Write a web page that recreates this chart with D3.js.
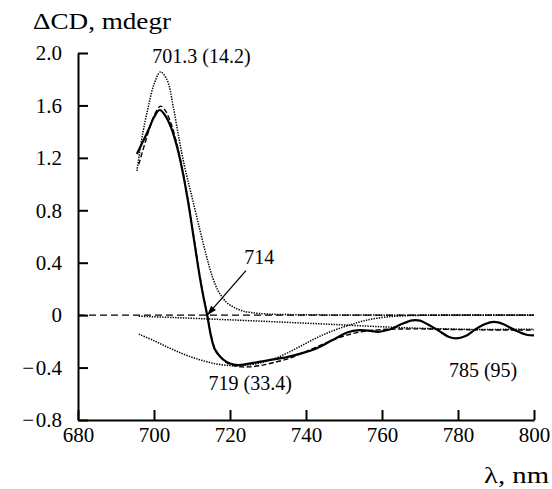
<!DOCTYPE html>
<html>
<head>
<meta charset="utf-8">
<script src="https://cdn.jsdelivr.net/npm/d3@7"></script>
<style>
    html, body { margin: 0; padding: 0; background: #fff; }
    svg { display: block; }
    svg text { font-family: "Liberation Serif", "Times New Roman", serif; }
    .axis path, .axis line { stroke: #000; stroke-width: 2; }
</style>
</head>
<body>
<svg id="chart" width="552" height="489"></svg>
<script>
// ====================================
// Données
// ====================================
const xTicks = [680, 700, 720, 740, 760, 780, 800];
const yTicks = [-0.8, -0.4, 0, 0.4, 0.8, 1.2, 1.6, 2.0];

// Spectre mesuré (trait plein)
const measured = [
    [695.5, 1.23], [697, 1.32], [698.5, 1.41], [700, 1.51], [701.5, 1.565],
    [703, 1.52], [704.5, 1.43], [706, 1.29], [707.5, 1.10], [709, 0.86],
    [710.5, 0.58], [712, 0.30], [713, 0.14], [714, 0.00], [715, -0.16],
    [716, -0.26], [717.5, -0.32], [719, -0.355], [721, -0.378], [723, -0.38],
    [725, -0.37], [728, -0.355], [731, -0.34], [735, -0.32], [739, -0.29],
    [743, -0.25], [747, -0.19], [751, -0.13], [754, -0.115], [757, -0.12],
    [759, -0.127], [762, -0.11], [765, -0.07], [768, -0.04], [770, -0.042],
    [772, -0.07], [775, -0.12], [777.5, -0.165], [779.5, -0.178], [782, -0.16],
    [784.5, -0.11], [787, -0.07], [789.5, -0.052], [792, -0.07], [795, -0.115],
    [798, -0.15], [800, -0.155]
];

// Somme des composantes (tirets)
const fitSum = [
    [696, 1.15], [697.5, 1.30], [699, 1.44], [700.5, 1.55], [701.7, 1.595],
    [703, 1.56], [704.5, 1.46], [706, 1.31], [707.5, 1.11], [709, 0.87],
    [710.5, 0.59], [712, 0.31], [713, 0.15], [714, 0.0], [715, -0.15],
    [716, -0.25], [717.5, -0.32], [719, -0.36], [721, -0.385], [723, -0.395],
    [725, -0.395], [728, -0.385], [731, -0.365], [735, -0.335], [739, -0.29],
    [743, -0.24], [747, -0.19], [751, -0.15], [755, -0.125], [760, -0.11],
    [770, -0.105], [780, -0.11], [790, -0.113], [800, -0.113]
];

// Composante positive 701.3 (14.2)
const band701 = [
    [695.5, 1.10], [697, 1.38], [698.5, 1.59], [700, 1.76], [701.7, 1.855],
    [703.5, 1.79], [705, 1.60], [706.5, 1.36], [708, 1.14], [709.5, 0.96],
    [711, 0.78], [712.5, 0.60], [714, 0.43], [715.5, 0.28], [717, 0.18],
    [719, 0.10], [721, 0.06], [723, 0.035], [725.5, 0.02], [730, 0.008],
    [740, 0.003], [760, 0.0], [800, 0.0]
];

// Composante négative 719 (33.4)
const band719 = [
    [696, -0.145], [700, -0.195], [704, -0.25], [708, -0.30], [712, -0.34],
    [716, -0.37], [720, -0.385], [723, -0.385], [727, -0.37], [731, -0.34],
    [735, -0.29], [739, -0.23], [743, -0.17], [747, -0.12], [751, -0.08],
    [755, -0.045], [760, -0.018], [765, -0.006], [775, 0.0], [800, 0.0]
];

// Composante large 785 (95)
const band785 = [
    [696, -0.008], [705, -0.018], [715, -0.03], [725, -0.042], [735, -0.055],
    [745, -0.068], [755, -0.082], [765, -0.095], [775, -0.104], [785, -0.109],
    [795, -0.108], [800, -0.107]
];

// Étiquettes : texte, λ, valeur
const bandLabels = [
    { text: "701.3 (14.2)", x: 712.5, y: 1.92 },
    { text: "719 (33.4)", x: 725.3, y: -0.57 },
    { text: "785 (95)", x: 786.6, y: -0.47 }
];
const crossLabel = { text: "714", x: 727.7, y: 0.39, tail: [724.2, 0.34], tip: [714, 0] };

// ====================================
// Mise en page
// ====================================
const svg = d3.select("#chart");
const x = d3.scaleLinear().domain([680, 800]).range([78, 534]);
const y = d3.scaleLinear().domain([-0.8, 2.0]).range([420, 53]);
const fontSize = 20;

// Format des graduations : signe moins suivi d'une espace très fine
const formatTick = d => d === 0 ? "0" : (d < 0 ? "\u2212\u200A" : "") + d3.format(".1f")(Math.abs(d));

/**
 * Dessine les axes
 */
function drawAxes() {
    svg.append("g")
        .attr("class", "axis")
        .attr("transform", `translate(${x(680)},0)`)
        .call(d3.axisLeft(y).tickValues(yTicks).tickSize(-10).tickSizeOuter(0).tickPadding(16)
            .tickFormat(formatTick));

    const xAxis = svg.append("g")
        .attr("class", "axis")
        .attr("transform", `translate(0,${y(-0.8)})`)
        .call(d3.axisBottom(x).tickValues(xTicks).tickSize(-10).tickSizeOuter(0).tickFormat(d3.format("d")));
    xAxis.selectAll("text")
        .attr("y", 22)
        .attr("dy", null);

    svg.selectAll(".axis").attr("font-size", 21);
    svg.selectAll(".axis text").attr("fill", "#000");
    svg.selectAll(".axis .domain").attr("fill", "none");

    // Titres des axes
    svg.append("text")
        .attr("class", "label")
        .attr("x", 33)
        .attr("y", 29)
        .attr("font-size", 23)
        .attr("textLength", 138)
        .attr("lengthAdjust", "spacingAndGlyphs")
        .text("ΔCD, mdegr");

    svg.append("text")
        .attr("class", "label")
        .attr("x", 549 - 65)
        .attr("y", 483)
        .attr("font-size", 23)
        .attr("textLength", 65)
        .attr("lengthAdjust", "spacingAndGlyphs")
        .text("λ, nm");
}

/**
 * Dessine les courbes
 */
function drawCurves() {
    const line = d3.line()
        .x(d => x(d[0]))
        .y(d => y(d[1]))
        .curve(d3.curveCatmullRom.alpha(0.5));

    // Ligne de base à zéro
    svg.append("line")
        .attr("x1", x(680)).attr("x2", x(800))
        .attr("y1", y(0)).attr("y2", y(0))
        .attr("stroke", "#000")
        .attr("stroke-width", 1.3)
        .attr("stroke-dasharray", "7,4");

    const curves = [
        { data: band701, width: 1.5, dash: "1.4,1.2" },
        { data: band719, width: 1.5, dash: "1.4,1.2" },
        { data: band785, width: 1.5, dash: "1.4,1.2" },
        { data: fitSum, width: 1.4, dash: "5,2.5" },
        { data: measured, width: 2.2, dash: null }
    ];

    svg.selectAll(".curve")
        .data(curves)
        .join("path")
        .attr("class", "curve")
        .attr("d", d => line(d.data))
        .attr("fill", "none")
        .attr("stroke", "#000")
        .attr("stroke-width", d => d.width)
        .attr("stroke-dasharray", d => d.dash);
}

/**
 * Dessine les annotations
 */
function drawLabels() {
    svg.selectAll(".band-label")
        .data(bandLabels)
        .join("text")
        .attr("class", "label band-label")
        .attr("x", d => x(d.x))
        .attr("y", d => y(d.y))
        .attr("text-anchor", "middle")
        .attr("font-size", fontSize)
        .text(d => d.text);

    svg.append("text")
        .attr("class", "label")
        .attr("x", x(crossLabel.x))
        .attr("y", y(crossLabel.y))
        .attr("text-anchor", "middle")
        .attr("font-size", fontSize)
        .text(crossLabel.text);

    // Flèche vers le point de croisement
    svg.append("defs").append("marker")
        .attr("id", "arrow")
        .attr("viewBox", "0 0 12 10")
        .attr("refX", 12).attr("refY", 5)
        .attr("markerWidth", 12).attr("markerHeight", 8)
        .attr("markerUnits", "userSpaceOnUse")
        .attr("orient", "auto")
        .append("path")
        .attr("d", "M0,1 L12,5 L0,9 Z")
        .attr("fill", "#000");

    svg.append("line")
        .attr("x1", x(crossLabel.tail[0])).attr("y1", y(crossLabel.tail[1]))
        .attr("x2", x(crossLabel.tip[0])).attr("y2", y(crossLabel.tip[1]))
        .attr("stroke", "#000")
        .attr("stroke-width", 1.3)
        .attr("marker-end", "url(#arrow)");

    svg.selectAll(".label").attr("fill", "#000");
}

drawAxes();
drawCurves();
drawLabels();
</script>
</body>
</html>
